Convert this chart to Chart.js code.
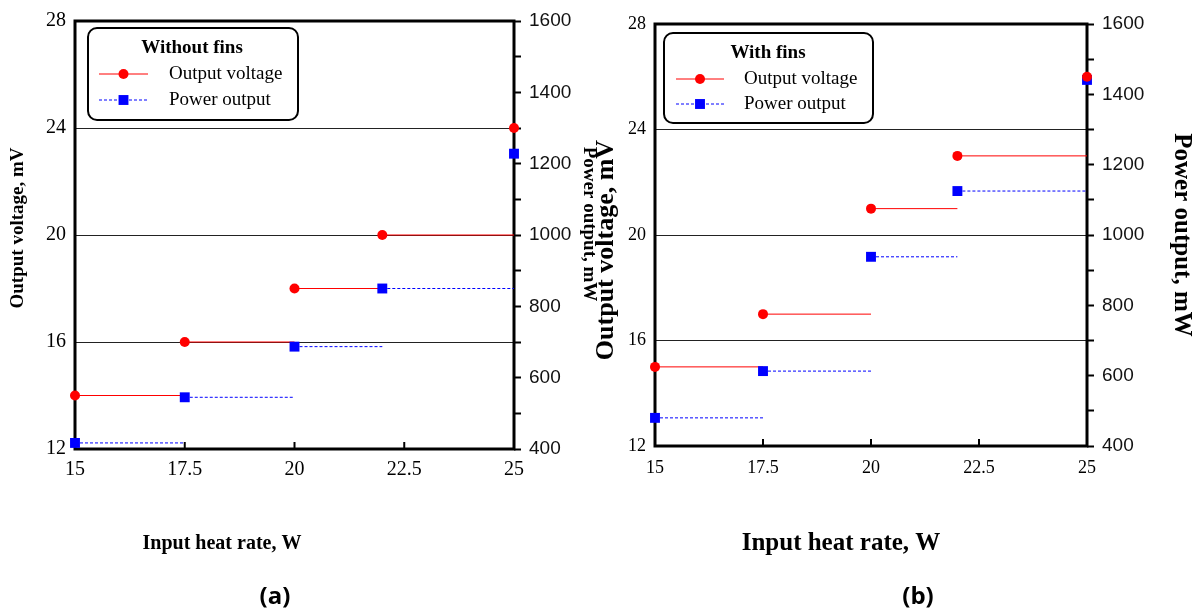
<!DOCTYPE html>
<html>
<head>
<meta charset="utf-8">
<script src="https://cdn.jsdelivr.net/npm/chart.js@4/dist/chart.umd.min.js"></script>
<style>
  body { margin: 0; background: #fff; width: 1198px; height: 616px; overflow: hidden; position: relative; }
  canvas { position: absolute; top: 0; }
  #chartA { left: 0; }
  #chartB { left: 590px; }
</style>
</head>
<body>
<canvas id="chartA" width="600" height="616"></canvas>
<canvas id="chartB" width="608" height="616"></canvas>
<script>
// data
const heatRate = [15, 17.5, 20, 22, 25];
const voltageNoFins = [14, 16, 18, 20, 24];
const powerNoFins = [417, 545, 687, 850, 1228];
const voltageFins = [15, 17, 21, 23, 26];
const powerFins = [480, 613, 938, 1125, 1441];

const xTicks = [15, 17.5, 20, 22.5, 25];
const voltageTicks = [12, 16, 20, 24, 28];
const powerTicks = [400, 600, 800, 1000, 1200, 1400, 1600];

const seriesNames = ['Output voltage', 'Power output'];
const panelTitles = ['Without fins', 'With fins'];
const xTitle = 'Input heat rate, W';
const yLeftTitle = 'Output voltage, mV';
const yRightTitle = 'Power output, mW';
const captions = ['(a)', '(b)'];

const serif = "'Liberation Serif', 'Times New Roman', serif";
const sans = "'Liberation Sans', Arial, sans-serif";

// each point draws a flat line up to the next input value
function steps(xs, ys) {
    let out = [];
    for (let i = 0; i < xs.length - 1; i++) {
        out.push({x: xs[i], y: ys[i]});
        out.push({x: xs[i + 1], y: ys[i]});
        out.push({x: xs[i + 1], y: null});
    }
    return out;
}

function points(xs, ys) {
    return xs.map((x, i) => ({x: x, y: ys[i]}));
}

function text(ctx, str, x, y, font, rot) {
    ctx.save();
    ctx.translate(x, y);
    ctx.rotate(rot || 0);
    ctx.font = font;
    ctx.fillStyle = '#000';
    ctx.textAlign = 'center';
    ctx.textBaseline = 'middle';
    ctx.fillText(str, 0, 0);
    ctx.restore();
}

const extras = {
    id: 'extras',
    beforeDatasetsDraw(chart, args, o) {
        const ctx = chart.ctx;
        const a = chart.chartArea;
        const xs = chart.scales.x;
        ctx.save();
        ctx.strokeStyle = '#000';
        ctx.lineWidth = 2;
        xs.ticks.forEach(t => {
            const px = xs.getPixelForValue(t.value);
            ctx.beginPath();
            ctx.moveTo(px, a.bottom);
            ctx.lineTo(px, a.bottom - 7);
            ctx.stroke();
        });
        ctx.lineWidth = 3;
        ctx.strokeRect(a.left, a.top, a.width, a.height);
        ctx.restore();
    },
    afterDraw(chart, args, o) {
        const ctx = chart.ctx;
        const L = o.legend;

        ctx.save();
        ctx.lineWidth = 2;
        ctx.strokeStyle = '#000';
        ctx.fillStyle = '#fff';
        ctx.beginPath();
        ctx.roundRect(L.x, L.y, L.w, L.h, 9);
        ctx.fill();
        ctx.stroke();
        ctx.restore();

        text(ctx, o.title, L.titleX, L.titleY, 'bold ' + L.size + 'px ' + serif);

        const rows = [
            {color: '#ff0000', dash: [], style: 'circle', radius: 5},
            {color: '#0000ff', dash: [3, 2], style: 'rect', radius: 7}
        ];
        rows.forEach((r, i) => {
            const y = L.rowY[i];
            ctx.save();
            ctx.strokeStyle = r.color;
            ctx.fillStyle = r.color;
            ctx.lineWidth = 1;
            ctx.setLineDash(r.dash);
            ctx.beginPath();
            ctx.moveTo(L.lineX0, y);
            ctx.lineTo(L.lineX1, y);
            ctx.stroke();
            ctx.setLineDash([]);
            Chart.helpers.drawPoint(ctx, {pointStyle: r.style, radius: r.radius, borderWidth: 0, rotation: 0},
                (L.lineX0 + L.lineX1) / 2, y);
            ctx.font = L.size + 'px ' + serif;
            ctx.fillStyle = '#000';
            ctx.textAlign = 'left';
            ctx.textBaseline = 'middle';
            ctx.fillText(seriesNames[i], L.textX, y);
            ctx.restore();
        });

        const T = o.titles;
        text(ctx, yLeftTitle, T.left[0], T.left[1], 'bold ' + T.left[2] + 'px ' + serif, -Math.PI / 2);
        text(ctx, yRightTitle, T.right[0], T.right[1], 'bold ' + T.right[2] + 'px ' + serif, Math.PI / 2);
        text(ctx, xTitle, T.bottom[0], T.bottom[1], 'bold ' + T.bottom[2] + 'px ' + serif);
        text(ctx, o.caption, T.caption[0], T.caption[1], 'bold 24px "Open Sans", sans-serif');
    }
};

function makeChart(id, volt, power, p) {
    return new Chart(document.getElementById(id), {
        type: 'scatter',
        data: {
            datasets: [
                {
                    label: seriesNames[0], data: points(heatRate, volt), yAxisID: 'yV',
                    pointStyle: 'circle', pointRadius: 5, pointBorderWidth: 0,
                    backgroundColor: '#ff0000', borderColor: '#ff0000', order: 0, clip: false
                },
                {
                    label: seriesNames[1], data: points(heatRate, power), yAxisID: 'yP',
                    pointStyle: 'rect', pointRadius: 7, pointBorderWidth: 0,
                    backgroundColor: '#0000ff', borderColor: '#0000ff', order: 1, clip: false
                },
                {
                    data: steps(heatRate, volt), yAxisID: 'yV', showLine: true, spanGaps: false,
                    pointRadius: 0, borderColor: '#ff0000', borderWidth: 1, order: 2
                },
                {
                    data: steps(heatRate, power), yAxisID: 'yP', showLine: true, spanGaps: false,
                    pointRadius: 0, borderColor: '#0000ff', borderWidth: 1, borderDash: [3, 2], order: 3
                }
            ]
        },
        options: {
            responsive: false,
            animation: false,
            layout: { padding: { top: p.padTop, left: 0, right: 0, bottom: 0 } },
            plugins: {
                legend: { display: false },
                tooltip: { enabled: false },
                extras: { legend: p.legend, titles: p.titles, title: p.title, caption: p.caption }
            },
            scales: {
                x: {
                    type: 'linear', min: 15, max: 25,
                    afterBuildTicks: s => { s.ticks = xTicks.map(v => ({value: v})); },
                    afterFit: s => { s.height = p.xHeight; },
                    grid: { display: false },
                    border: { display: false },
                    ticks: { font: { family: serif, size: p.xFont }, color: '#000', padding: p.xPad, maxRotation: 0 }
                },
                yV: {
                    position: 'left', min: 12, max: 28,
                    afterBuildTicks: s => { s.ticks = voltageTicks.map(v => ({value: v})); },
                    afterFit: s => { s.width = p.leftWidth; },
                    grid: { drawTicks: false, color: '#222', lineWidth: 1 },
                    border: { display: false },
                    ticks: { font: { family: serif, size: p.leftFont }, color: '#000', padding: 9 }
                },
                yP: {
                    position: 'right', min: 400, max: 1600,
                    afterFit: s => { s.width = p.rightWidth; },
                    grid: { drawOnChartArea: false, tickLength: 7, tickWidth: 2, tickColor: '#000' },
                    border: { display: false },
                    ticks: {
                        stepSize: 100, autoSkip: false,
                        callback: v => powerTicks.includes(v) ? v : '',
                        font: { family: sans, size: 19 }, color: '#111', padding: 8
                    }
                }
            }
        },
        plugins: [extras]
    });
}

makeChart('chartA', voltageNoFins, powerNoFins, {
    padTop: 17, leftWidth: 75, rightWidth: 86, xHeight: 167,
    leftFont: 20, xFont: 20, xPad: 1,
    title: panelTitles[0], caption: captions[0],
    legend: { x: 88, y: 28, w: 210, h: 92, titleX: 192, titleY: 48, rowY: [74, 100],
              lineX0: 99, lineX1: 148, textX: 169, size: 19 },
    titles: { left: [18, 228, 19], right: [589, 224, 19], bottom: [222, 544, 20], caption: [275, 597] }
});

makeChart('chartB', voltageFins, powerFins, {
    padTop: 24, leftWidth: 65, rightWidth: 111, xHeight: 170,
    leftFont: 18, xFont: 18, xPad: 3,
    title: panelTitles[1], caption: captions[1],
    legend: { x: 74, y: 33, w: 209, h: 90, titleX: 178, titleY: 53, rowY: [79, 104],
              lineX0: 86, lineX1: 134, textX: 154, size: 19 },
    titles: { left: [16, 250, 26], right: [591, 235, 25], bottom: [251, 544, 25], caption: [328, 597] }
});
</script>
</body>
</html>
